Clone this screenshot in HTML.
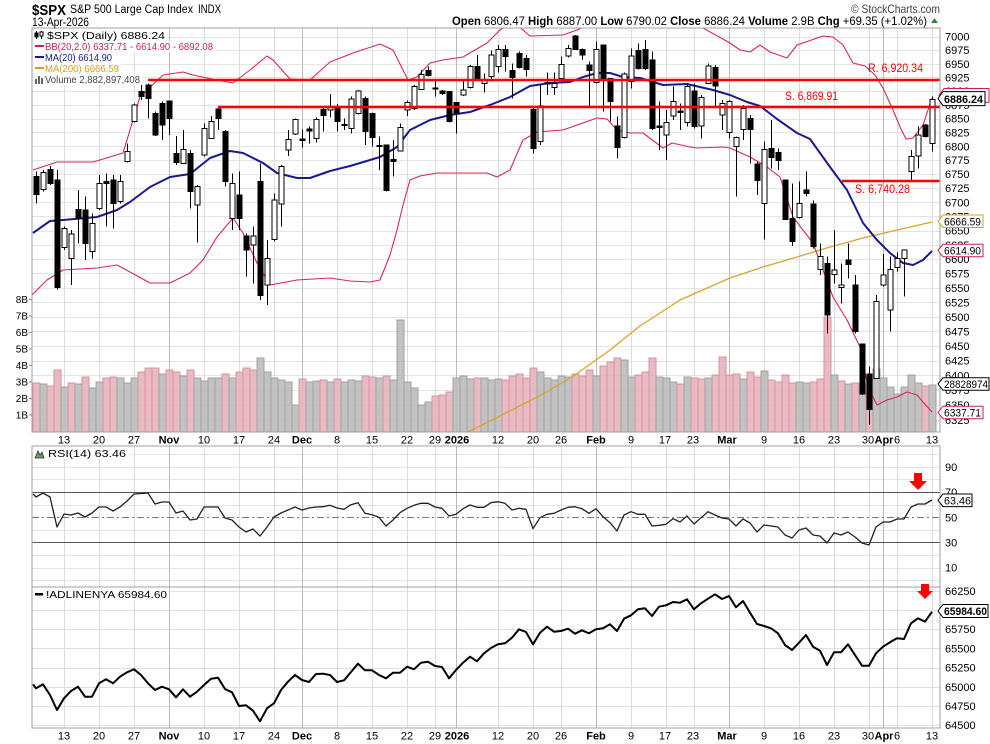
<!DOCTYPE html>
<html><head><meta charset="utf-8">
<style>
html,body{margin:0;padding:0;background:#fff;}
svg{display:block;font-family:"Liberation Sans",Arial,sans-serif;}
</style></head>
<body>
<svg id="c" width="990" height="744" viewBox="0 0 990 744" xmlns="http://www.w3.org/2000/svg">
<defs>
<clipPath id="cm"><rect x="32" y="28" width="908" height="404"/></clipPath>
<clipPath id="cr"><rect x="32" y="446" width="908" height="141"/></clipPath>
<clipPath id="ca"><rect x="32" y="587" width="908" height="141"/></clipPath>
</defs>
<rect width="990" height="744" fill="#fff"/>
<g id="grid" shape-rendering="crispEdges"></g>
<g id="vol" clip-path="url(#cm)" shape-rendering="crispEdges" opacity="0.9"></g>
<g id="ov" clip-path="url(#cm)" fill="none"></g>
<g id="cdl" clip-path="url(#cm)" shape-rendering="crispEdges"></g>
<g id="rsi" clip-path="url(#cr)"></g>
<g id="adl" clip-path="url(#ca)"></g>

<!-- S/R lines -->
<line x1="148" y1="80" x2="940" y2="80" stroke="#f00" stroke-width="2.6"/>
<line x1="218" y1="107" x2="940" y2="107" stroke="#f00" stroke-width="2.6"/>
<line x1="842" y1="181" x2="940" y2="181" stroke="#f00" stroke-width="2.6"/>
<text x="868" y="72" font-size="12" fill="#f00" textLength="55" lengthAdjust="spacingAndGlyphs">R. 6,920.34</text>
<text x="785" y="100" font-size="12" fill="#f00" textLength="53" lengthAdjust="spacingAndGlyphs">S. 6,869.91</text>
<text x="855" y="193" font-size="12" fill="#f00" textLength="55" lengthAdjust="spacingAndGlyphs">S. 6,740.28</text>

<!-- frames -->
<g fill="none" stroke="#a0a0a0" stroke-width="1" shape-rendering="crispEdges">
<rect x="32" y="28" width="908" height="404"/>
<rect x="32" y="446" width="908" height="141"/>
<rect x="32" y="587" width="908" height="141"/>
</g>

<!-- legend main -->
<g>
<rect x="33" y="29" width="134" height="12" fill="#fff"/>
<rect x="33" y="41" width="182" height="11" fill="#fff"/>
<rect x="33" y="52" width="81" height="11" fill="#fff"/>
<rect x="33" y="63" width="88" height="11" fill="#fff"/>
<rect x="33" y="74" width="109" height="11" fill="#fff"/>
<g stroke="#000" stroke-width="1">
<line x1="36.5" y1="31" x2="36.5" y2="39"/><rect x="35" y="33" width="3" height="4" fill="#000"/>
<line x1="41.5" y1="31" x2="41.5" y2="39"/><rect x="40" y="32" width="3" height="4" fill="#fff"/>
</g>
<line x1="35" y1="46" x2="44" y2="46" stroke="#cc1f4a" stroke-width="2"/>
<line x1="35" y1="57" x2="44" y2="57" stroke="#1a1a8a" stroke-width="2"/>
<line x1="35" y1="68" x2="44" y2="68" stroke="#d4a020" stroke-width="2"/>
<g fill="#666"><rect x="35" y="79" width="2" height="5"/><rect x="38" y="76" width="2" height="8"/><rect x="41" y="78" width="2" height="6"/></g>
<text x="47" y="39" font-size="10.5" textLength="118" lengthAdjust="spacingAndGlyphs">$SPX (Daily) 6886.24</text>
<text x="45" y="50" font-size="10.5" fill="#cc1f4a" textLength="168" lengthAdjust="spacingAndGlyphs">BB(20,2.0) 6337.71 - 6614.90 - 6892.08</text>
<text x="45" y="61" font-size="10.5" fill="#1a1a8a" textLength="67" lengthAdjust="spacingAndGlyphs">MA(20) 6614.90</text>
<text x="45" y="72" font-size="10.5" fill="#d4a020" textLength="74" lengthAdjust="spacingAndGlyphs">MA(200) 6666.59</text>
<text x="45" y="83" font-size="10.5" fill="#444" textLength="95" lengthAdjust="spacingAndGlyphs">Volume 2,882,897,408</text>
</g>

<!-- header -->
<text x="32" y="15" font-size="15" font-weight="bold" textLength="34" lengthAdjust="spacingAndGlyphs">$SPX</text>
<text x="70" y="13" font-size="11.5" textLength="123" lengthAdjust="spacingAndGlyphs">S&amp;P 500 Large Cap Index</text>
<text x="198" y="13" font-size="11.5" textLength="23" lengthAdjust="spacingAndGlyphs">INDX</text>
<text x="32" y="26" font-size="11.5" textLength="57" lengthAdjust="spacingAndGlyphs">13-Apr-2026</text>
<text x="851" y="13" font-size="12" fill="#444" textLength="89" lengthAdjust="spacingAndGlyphs">© StockCharts.com</text>
<text x="452" y="25" font-size="12" textLength="475" lengthAdjust="spacingAndGlyphs"><tspan font-weight="bold">Open</tspan> 6806.47 <tspan font-weight="bold">High</tspan> 6887.00 <tspan font-weight="bold">Low</tspan> 6790.02 <tspan font-weight="bold">Close</tspan> 6886.24 <tspan font-weight="bold">Volume</tspan> 2.9B <tspan font-weight="bold">Chg</tspan> +69.35 (+1.02%)</text>
<polygon points="931,23 938,23 934.5,18" fill="#2a8a3a"/>

<!-- price axis labels -->
<g font-size="11" fill="#000">
<text x="945" y="40.7">7000</text><text x="945" y="54.2">6975</text><text x="945" y="67.8">6950</text><text x="945" y="81.4">6925</text>
<text x="945" y="95.1">6900</text><text x="945" y="108.8">6875</text><text x="945" y="122.6">6850</text><text x="945" y="136.4">6825</text>
<text x="945" y="150.3">6800</text><text x="945" y="164.2">6775</text><text x="945" y="178.2">6750</text><text x="945" y="192.2">6725</text>
<text x="945" y="206.3">6700</text><text x="945" y="220.4">6675</text><text x="945" y="234.6">6650</text><text x="945" y="248.8">6625</text>
<text x="945" y="263.1">6600</text><text x="945" y="277.5">6575</text><text x="945" y="291.9">6550</text><text x="945" y="306.3">6525</text>
<text x="945" y="320.8">6500</text><text x="945" y="335.4">6475</text><text x="945" y="350">6450</text><text x="945" y="364.7">6425</text>
<text x="945" y="379.4">6400</text><text x="945" y="394.2">6375</text><text x="945" y="409.1">6350</text><text x="945" y="424">6325</text>
</g>
<!-- volume axis -->
<g font-size="10" fill="#000" text-anchor="end">
<text x="28" y="303">8B</text><text x="28" y="319.5">7B</text><text x="28" y="336">6B</text><text x="28" y="352.5">5B</text>
<text x="28" y="369">4B</text><text x="28" y="385.5">3B</text><text x="28" y="402">2B</text><text x="28" y="418.5">1B</text>
</g>
<g stroke="#888" shape-rendering="crispEdges">
<line x1="29" x2="32" y1="299.5" y2="299.5"/><line x1="29" x2="32" y1="316" y2="316"/><line x1="29" x2="32" y1="332.5" y2="332.5"/><line x1="29" x2="32" y1="349" y2="349"/>
<line x1="29" x2="32" y1="365.5" y2="365.5"/><line x1="29" x2="32" y1="382" y2="382"/><line x1="29" x2="32" y1="398.5" y2="398.5"/><line x1="29" x2="32" y1="415" y2="415"/>
</g>

<!-- value boxes main -->
<polygon points="939,95.4 944,88.5 989,88.5 989,102.3 944,102.3" fill="#fff" stroke="#cc1f4a"/>
<polygon points="938,98.6 943,91.6 985,91.6 985,105.6 943,105.6" fill="#fff" stroke="#000"/>
<text x="944" y="102.8" font-size="11" font-weight="bold" textLength="39" lengthAdjust="spacingAndGlyphs">6886.24</text>
<polygon points="938,221.2 943,215 983,215 983,227.5 943,227.5" fill="#fff" stroke="#d4a020"/>
<text x="944" y="225.3" font-size="11" textLength="37" lengthAdjust="spacingAndGlyphs">6666.59</text>
<polygon points="938,250.5 943,244.3 983,244.3 983,256.8 943,256.8" fill="#fff" stroke="#cc1f4a"/>
<text x="944" y="254.6" font-size="11" textLength="37" lengthAdjust="spacingAndGlyphs">6614.90</text>
<polygon points="938,384 943,377.8 989,377.8 989,390.3 943,390.3" fill="#fff" stroke="#000"/>
<text x="944" y="388.1" font-size="11" textLength="44" lengthAdjust="spacingAndGlyphs">28828974</text>
<polygon points="938,412.4 943,406.2 983,406.2 983,418.7 943,418.7" fill="#fff" stroke="#cc1f4a"/>
<text x="944" y="416.5" font-size="11" textLength="37" lengthAdjust="spacingAndGlyphs">6337.71</text>

<!-- date labels main -->
<g font-size="11" text-anchor="middle" fill="#000">
<text x="64" y="443.5">13</text><text x="99" y="443.5">20</text><text x="134" y="443.5">27</text>
<text x="169" y="443.5" font-weight="bold">Nov</text><text x="204" y="443.5">10</text><text x="239" y="443.5">17</text><text x="274" y="443.5">24</text>
<text x="302" y="443.5" font-weight="bold">Dec</text><text x="337" y="443.5">8</text><text x="372" y="443.5">15</text><text x="407" y="443.5">22</text><text x="435" y="443.5">29</text>
<text x="457" y="443.5" font-weight="bold">2026</text><text x="498" y="443.5">12</text><text x="533" y="443.5">20</text><text x="561" y="443.5">26</text>
<text x="596" y="443.5" font-weight="bold">Feb</text><text x="631" y="443.5">9</text><text x="665" y="443.5">17</text><text x="693" y="443.5">23</text>
<text x="727" y="443.5" font-weight="bold">Mar</text><text x="764" y="443.5">9</text><text x="799" y="443.5">16</text><text x="834" y="443.5">23</text>
<text x="868" y="443.5">30</text><text x="884" y="443.5" font-weight="bold">Apr</text><text x="897" y="443.5">6</text><text x="932" y="443.5">13</text>
</g>
<!-- date labels bottom -->
<g font-size="11" text-anchor="middle" fill="#000">
<text x="64" y="739.5">13</text><text x="99" y="739.5">20</text><text x="134" y="739.5">27</text>
<text x="169" y="739.5" font-weight="bold">Nov</text><text x="204" y="739.5">10</text><text x="239" y="739.5">17</text><text x="274" y="739.5">24</text>
<text x="302" y="739.5" font-weight="bold">Dec</text><text x="337" y="739.5">8</text><text x="372" y="739.5">15</text><text x="407" y="739.5">22</text><text x="435" y="739.5">29</text>
<text x="457" y="739.5" font-weight="bold">2026</text><text x="498" y="739.5">12</text><text x="533" y="739.5">20</text><text x="561" y="739.5">26</text>
<text x="596" y="739.5" font-weight="bold">Feb</text><text x="631" y="739.5">9</text><text x="665" y="739.5">17</text><text x="693" y="739.5">23</text>
<text x="727" y="739.5" font-weight="bold">Mar</text><text x="764" y="739.5">9</text><text x="799" y="739.5">16</text><text x="834" y="739.5">23</text>
<text x="868" y="739.5">30</text><text x="884" y="739.5" font-weight="bold">Apr</text><text x="897" y="739.5">6</text><text x="932" y="739.5">13</text>
</g>

<!-- RSI legend & labels -->
<rect x="33" y="447" width="96" height="12" fill="#fff"/>
<polygon points="35,458 38,451 40,455 42,452 44,458" fill="#6b9a6b" stroke="#333" stroke-width="0.8"/>
<text x="48" y="457" font-size="10.5" textLength="78" lengthAdjust="spacingAndGlyphs">RSI(14) 63.46</text>
<g font-size="11" fill="#000">
<text x="945" y="470.9">90</text><text x="945" y="496">70</text><text x="945" y="521.3">50</text><text x="945" y="546.5">30</text><text x="945" y="571.7">10</text>
</g>
<polygon points="938,500.3 943,494 972,494 972,506.6 943,506.6" fill="#fff" stroke="#000"/>
<text x="944" y="504.4" font-size="11" textLength="27" lengthAdjust="spacingAndGlyphs">63.46</text>
<polygon points="914,473 922,473 922,481 927,481 918,490 909,481 914,481" fill="#f00"/>

<!-- ADL legend & labels -->
<rect x="33" y="588" width="136" height="12" fill="#fff"/>
<rect x="35" y="593" width="8" height="2.5" fill="#000"/>
<text x="46" y="598" font-size="10.5" textLength="121" lengthAdjust="spacingAndGlyphs">!ADLINENYA 65984.60</text>
<g font-size="11" fill="#000">
<text x="945" y="594.8">66250</text><text x="945" y="633.2">65750</text><text x="945" y="652.4">65500</text><text x="945" y="671.6">65250</text>
<text x="945" y="690.8">65000</text><text x="945" y="710">64750</text><text x="945" y="729.2">64500</text>
</g>
<polygon points="938,611 943,604.5 988,604.5 988,617.5 943,617.5" fill="#fff" stroke="#000"/>
<text x="944" y="615.2" font-size="11" font-weight="bold" textLength="43" lengthAdjust="spacingAndGlyphs">65984.60</text>
<polygon points="921,584 929,584 929,591 933,591 925,599 917,591 921,591" fill="#f00"/>
</svg>

<script>
(function(){
var NS="http://www.w3.org/2000/svg";
function el(p,t,a){var e=document.createElementNS(NS,t);for(var k in a)e.setAttribute(k,a[k]);p.appendChild(e);return e;}
function X(i){return 36+7*i;}
var G=document.getElementById('grid'),GV=document.getElementById('vol'),GO=document.getElementById('ov'),GC=document.getElementById('cdl'),GR=document.getElementById('rsi'),GA=document.getElementById('adl');
var L7=Math.log(7000),p,y,i;
// main horizontal grid
for(p=7000;p>=6325;p-=25){y=Math.round(36.7+(L7-Math.log(p))*3780)+0.5;el(G,'line',{x1:32,x2:940,y1:y,y2:y,stroke:'#e4e4e4'});}
// RSI horizontal grid
for(var v=100;v>=0;v-=10){if(v==70||v==30||v==50)continue;y=Math.round(517.3-(v-50)*1.26)+0.5;el(G,'line',{x1:32,x2:940,y1:y,y2:y,stroke:'#e4e4e4'});}
// ADL horizontal grid
for(p=66250;p>=64500;p-=250){y=Math.round(610+(66000-p)*0.0768)+0.5;el(G,'line',{x1:32,x2:940,y1:y,y2:y,stroke:'#e0e0e0'});}
var wk=[4,9,14,24,29,34,43,48,53,57,66,71,75,85,90,94,104,109,114,119,123,128],mo=[19,38,60,80,99,121];
var pans=[[28,432],[446,587],[587,728]];
pans.forEach(function(pn){
 wk.forEach(function(k){var x=X(k)+0.5;el(G,'line',{x1:x,x2:x,y1:pn[0],y2:pn[1],stroke:'#dcdcdc'});});
 mo.forEach(function(k){var x=X(k)+0.5;el(G,'line',{x1:x,x2:x,y1:pn[0],y2:pn[1],stroke:'#bcbcbc'});});
});
// RSI special lines
el(GR,'line',{x1:32,x2:940,y1:492.5,y2:492.5,stroke:'#555','stroke-width':1});
el(GR,'line',{x1:32,x2:940,y1:542.5,y2:542.5,stroke:'#555','stroke-width':1});
el(GR,'line',{x1:32,x2:940,y1:517.5,y2:517.5,stroke:'#777','stroke-width':1,'stroke-dasharray':'7,3,2,3'});

// volume
var V="p383 g384 p386 p370 g387 p383 g384 p377 g388 g382 p378 p377 g378 g383 g378 p372 p368 p368 g374 p370 p372 g376 p370 g378 g381 g378 g378 p374 g378 p372 p368 p370 g358 g372 g378 g380 g382 g405 p379 g382 g381 p380 g382 p379 g382 g380 g381 p376 p377 g378 p376 g380 g320 g382 g388 g405 g402 p396 p395 p392 g378 g376 g379 p378 g378 g380 g379 p380 p376 p374 p378 p368 g372 g378 g380 g376 g377 p374 p376 p370 g376 p366 p362 p358 g360 g377 p375 p372 p358 g377 g378 g382 p384 g377 p378 p379 g378 p375 p357 p375 p374 g379 p372 p377 g371 p380 p382 p375 p383 g382 g383 p382 p379 p317 g375 p381 g384 p383 g388 p383 g369 g378 g387 g394 g387 g375 g383 p386 g385".split(' ');
V.forEach(function(s,i){var t=s[0],y=+s.slice(1);el(GV,'rect',{x:X(i)-3,y:y,width:7,height:433-y,fill:t=='p'?'#e6b3bb':'#bcbcbc',stroke:t=='p'?'#d48898':'#989898','stroke-width':1});});

// overlays
function pl(pts,col,w){el(GO,'polyline',{points:pts,stroke:col,'stroke-width':w,fill:'none','stroke-linejoin':'round'});}
pl("468,432 500,416 545,393 575,375 610,350 640,326 680,300 730,278 763,267 797,257 830,247 863,238 897,230 932,222","#d9a528",1.3);
pl("33,170 57,162 93,162 123,153 130,130 140,97 163,75 183,72 193,75 217,80 233,83 250,70 267,56 273,60 290,79 310,80 330,62 353,53 380,44 393,50 408,80 417,77 430,63 443,60 463,57 487,43 500,30 510,24 518,26 523,30 530,36 563,35 577,30 590,24 640,20 690,22 703,28 730,43 740,50 750,52 760,45 770,52 787,58 797,45 823,36 833,37 843,45 853,63 865,66 875,75 883,88 893,110 900,127 906,139 913,138 923,125 932,98","#d8284e",1.1);
pl("30,297 47,280 63,270 97,268 117,265 130,272 150,283 170,283 190,273 203,260 217,237 233,218 243,233 257,263 270,285 297,280 330,278 350,281 370,282 380,280 390,255 397,230 403,205 410,180 420,176 437,173 463,173 487,173 497,177 510,170 523,140 537,132 563,130 597,118 607,119 617,130 630,133 643,133 663,148 672,143 690,147 697,148 723,147 730,148 750,157 767,167 780,177 793,217 813,243 823,270 833,297 847,320 860,347 868,387 877,405 887,400 897,397 907,392 917,395 923,402 932,412","#d8284e",1.1);
pl("33,233 50,221 63,220 97,217 117,210 130,202 150,187 170,177 190,174 210,158 230,151 243,153 263,163 277,173 297,178 310,178 330,171 350,166 380,157 397,147 410,130 430,120 450,115 470,112 490,105 510,97 530,86 550,83 570,82 583,77 597,73 610,73 623,77 640,78 663,85 687,84 713,90 730,95 747,102 760,106 777,119 797,133 810,139 830,167 847,190 863,223 877,240 890,253 903,263 913,265 923,260 932,251","#1a1a8c",2);

// candles
var C="b 425 440 493 520|w 420 428 478 485|b 408 418 460 465|b 420 450 772 778|w 590 595 652 660|w 600 612 685 765|b 480 538 565 640|b 500 540 640 690|w 550 580 665 685|w 435 460 535 540|b 430 455 461 590|b 435 450 520 595|w 435 455 515 520|w 340 365 395 397|w 220 225 275 278|b 165 185 200 210|b 160 165 205 265|b 245 250 315 318|b 215 220 285 330|b 213 213 265 315|b 318 370 398 405|w 300 358 400 402|b 360 370 485 535|w 465 470 525 637|w 280 295 375 380|w 258 275 325 327|b 228 237 265 300|b 300 305 455 470|w 430 460 565 600|b 425 495 565 600|b 610 618 660 740|w 590 618 645 760|b 400 455 797 810|w 630 685 765 825|w 490 510 628 635|w 405 410 522 590|w 300 328 360 378|w 265 268 312 315|b 298 327 331 352|b 290 297 303 340|w 262 268 325 338|b 232 238 256 305|w 192 232 240 262|b 222 232 275 305|w 265 283 287 300|w 200 207 295 310|w 180 183 250 253|b 200 205 305 345|b 248 250 322 350|b 320 346 350 420|b 345 345 482 485|b 330 388 394 440|w 280 292 363 365|w 212 218 240 258|w 165 170 235 240|w 120 133 178 180|b 110 122 137 140|b 150 174 177 200|b 180 183 190 195|b 185 185 275 278|b 218 218 250 310|w 150 180 195 198|w 105 110 172 175|b 75 110 150 152|w 130 150 160 188|w 62 75 140 155|w 45 58 110 128|b 45 58 80 125|b 100 122 142 205|b 65 70 112 115|b 75 85 118 140|b 230 238 355 370|w 165 228 335 345|b 128 158 162 195|w 128 160 172 195|w 80 103 145 150|w 45 55 78 82|b 15 18 58 60|b 55 58 75 90|b 95 105 122 228|w 35 58 158 160|b 45 45 150 245|b 145 145 215 275|b 260 288 352 385|w 128 132 322 325|w 55 78 155 175|b 40 62 115 118|b 30 58 115 120|b 65 90 295 300|b 215 288 292 360|w 240 278 315 390|w 170 215 258 270|b 220 243 247 300|w 160 170 278 290|b 160 183 290 295|w 195 203 288 325|w 100 108 160 162|b 105 112 168 235|w 210 220 255 300|w 210 215 308 325|w 320 322 350 500|w 225 235 298 330|b 255 265 298 400|b 395 402 452 495|w 335 358 520 628|b 270 355 382 415|b 355 368 392 420|b 450 450 568 570|b 460 565 635 648|w 455 520 562 565|b 425 480 490 500|b 512 522 650 655|w 640 680 718 735|b 680 700 855 910|w 600 720 733 760|w 700 765 772 820|b 640 690 703 745|b 735 765 905 910|b 940 942 1092 1095|b 1010 1032 1138 1185|w 795 815 1045 1045|w 672 735 765 770|w 680 718 840 905|w 668 685 712 725|w 658 660 685 800|w 360 380 425 452|w 290 315 378 415|b 282 285 320 322|w 200 208 340 365".split('|');
C.forEach(function(s,i){var a=s.split(' ');function f(z){return 30+(+z)/3;}
 var wt=f(a[1]),bt=f(a[2]),bb=f(a[3]),wb=f(a[4]),x=X(i);
 el(GC,'line',{x1:x+0.5,x2:x+0.5,y1:wt,y2:wb,stroke:'#000','stroke-width':1});
 var h=Math.max(bb-bt,1);
 el(GC,'rect',{x:x-2,y:bt,width:5,height:h,fill:a[0]=='b'?'#000':'#fff',stroke:'#000','stroke-width':1});
});

// RSI line
var R=[497,493,497,527,514,515,513,517,513,507,507,511,507,501,494,493.5,493,504,502,502,513,511,520,519,507,507,507,518,520,527,532,529,536,527,517,513,510,507,510,508,507,
506.7,505.3,508,509.3,504.7,502.7,513.3,514.7,517.3,526,520,512.7,508.3,505.3,503.3,503.3,507,508.3,516,514.3,508.7,505,507.3,507.3,502.7,501.7,503.3,510,508.3,509.3,528.7,517.7,514.3,513.3,510,507.3,506.7,508.7,513.3,508.7,516.7,522.7,531,515,511.7,514.3,514.3,526,525.3,524.3,518.7,522,516,524,517.7,511.7,
515,518,519,526,519,523,532,525,526,527,535,538,530,528,535,536,543,533,535,532,537,543,545,527,522,522,519,519,507,504,504,500];
var pts="33,494";R.forEach(function(v,i){pts+=" "+X(i)+","+v;});
el(GR,'polyline',{points:pts,fill:'none',stroke:'#222','stroke-width':1.3,'stroke-linejoin':'round'});

// ADL line
var A1=[325,313,345,390,355,333,320,350,350,310,298,310,290,277,268,285,310,330,320,328,352,328,350,335,315,296,293,327,337,378,376,392,424,385,370,330,305,285,300,306,282];
var A2=[683,687,708,703,678,653,673,673,687,697,680,680,662,670,650,647,660,663,697,672,650,632,646,622,606,595,592,575,550,558,595,560,542,557,555,548,563,553,562,550,547,535,555,518,508,490,487,510,482,478,468,470,460,490,472,458];
var A3=[43,57,48,82,63,98,132,138,145,160,195,210,188,165,200,212,255,217,217,193,225,257,257,220,200,187,175,177,130,115,125,95];
var AY=[];A1.forEach(function(z){AY.push(580+z/3);});A2.forEach(function(z){AY.push(446+z/3);});A3.forEach(function(z){AY.push(580+z/3);});
var pa="33,"+(580+313/3);AY.forEach(function(v,i){pa+=" "+X(i)+","+v.toFixed(1);});
el(GA,'polyline',{points:pa,fill:'none',stroke:'#000','stroke-width':2,'stroke-linejoin':'round'});
})();
</script>
</body></html>
